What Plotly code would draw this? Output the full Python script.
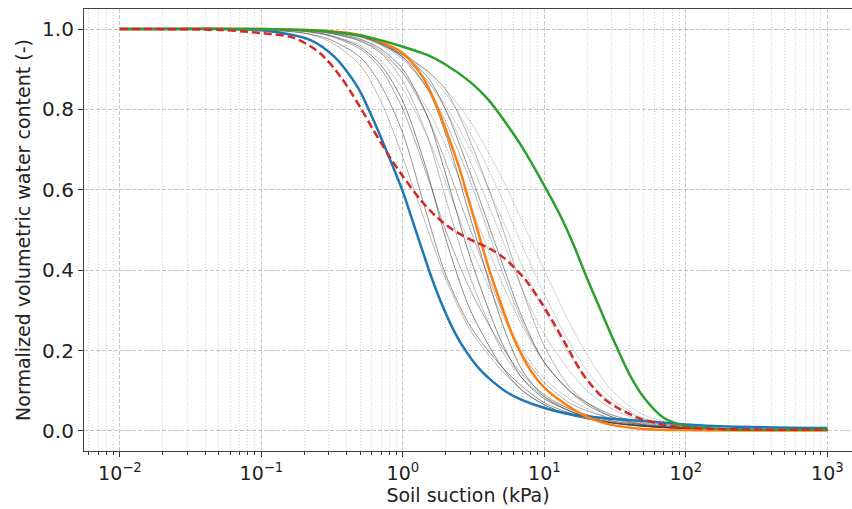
import plotly.graph_objects as go

# ---- data ----
blue_x = [0.01, 0.05, 0.1, 0.22, 0.33, 0.48, 0.62, 0.78, 1.0, 1.14, 1.4, 1.6, 1.86, 2.2, 2.57, 3.56, 5.5, 9.4, 16, 30, 48, 100, 200, 1000]
blue_y = [1, 1, 0.997, 0.973, 0.93, 0.855, 0.773, 0.69, 0.595, 0.535, 0.44, 0.38, 0.32, 0.262, 0.218, 0.15, 0.095, 0.06, 0.04, 0.03, 0.025, 0.016, 0.011, 0.007]

orange_x = [0.01, 0.1, 0.3, 0.5, 0.7, 1, 1.34, 1.66, 2, 2.5, 3, 3.5, 4, 5, 6, 8, 10, 13, 20, 30, 50, 100, 1000]
orange_y = [1, 1, 0.995, 0.985, 0.968, 0.94, 0.888, 0.825, 0.752, 0.655, 0.56, 0.48, 0.41, 0.31, 0.235, 0.15, 0.108, 0.075, 0.035, 0.015, 0.005, 0.002, 0.001]

green_x = [0.01, 0.1, 0.3, 0.5, 0.7, 1, 1.5, 2, 3, 4, 5.5, 7, 10, 13, 16, 20, 25, 30, 40, 50, 70, 100, 200, 1000]
green_y = [1, 1, 0.994, 0.984, 0.972, 0.956, 0.935, 0.912, 0.868, 0.825, 0.76, 0.705, 0.61, 0.535, 0.465, 0.38, 0.30, 0.235, 0.14, 0.085, 0.032, 0.012, 0.004, 0.003]

red_x = [0.01, 0.05, 0.1, 0.17, 0.26, 0.365, 0.5, 0.62, 0.78, 0.97, 1.34, 1.7, 2.2, 3, 4.2, 5.2, 7.2, 9.4, 12, 14.7, 18, 21, 26, 33, 48, 70, 100, 200, 1000]
red_y = [1, 0.998, 0.99, 0.978, 0.94, 0.88, 0.805, 0.748, 0.69, 0.64, 0.574, 0.535, 0.503, 0.476, 0.452, 0.43, 0.38, 0.322, 0.26, 0.205, 0.15, 0.118, 0.082, 0.057, 0.03, 0.015, 0.008, 0.004, 0.003]

gray_x = [0.01, 0.1, 0.2, 0.3, 0.5, 0.7, 1, 1.5, 2, 3, 5, 7, 10, 15, 20, 30, 50, 100, 200, 1000]
g01 = [1, .998, .99, .975, .93, .86, .74, .53, .39, .26, .16, .11, .07, .045, .033, .02, .012, .006, .004, .003]
g02 = [1, .999, .995, .985, .955, .91, .82, .64, .48, .30, .16, .10, .065, .04, .03, .02, .012, .006, .004, .003]
g03 = [1, .999, .996, .99, .97, .94, .87, .73, .58, .38, .20, .13, .085, .055, .04, .025, .014, .007, .004, .003]
g04 = [1, .999, .995, .985, .96, .92, .85, .73, .62, .46, .29, .20, .13, .08, .055, .03, .015, .007, .004, .003]
g05 = [1, 1, .997, .992, .975, .95, .90, .78, .64, .43, .22, .13, .08, .05, .035, .022, .012, .006, .004, .003]
g06 = [1, 1, .997, .99, .972, .945, .89, .78, .67, .50, .30, .19, .12, .07, .05, .03, .015, .007, .004, .003]
g07 = [1, 1, .997, .99, .97, .94, .89, .80, .71, .56, .37, .26, .17, .10, .07, .04, .02, .008, .004, .003]
g08 = [1, 1, .998, .994, .982, .963, .93, .85, .74, .53, .27, .15, .085, .05, .035, .02, .011, .006, .004, .003]
g09 = [1, 1, .998, .993, .98, .96, .925, .85, .77, .62, .40, .27, .17, .10, .07, .04, .02, .008, .004, .003]
g10 = [1, 1, .998, .994, .982, .963, .93, .87, .80, .67, .48, .35, .24, .15, .10, .055, .025, .009, .004, .003]
g11 = [1, 1, .998, .994, .983, .965, .935, .88, .80, .64, .42, .28, .17, .10, .065, .035, .017, .007, .004, .003]
g12 = [1, 1, .998, .993, .98, .962, .93, .87, .81, .70, .53, .41, .30, .19, .13, .07, .03, .01, .005, .003]
g13 = [1, 1, .998, .994, .982, .966, .94, .89, .84, .74, .58, .46, .34, .22, .15, .08, .032, .01, .005, .003]
g14 = [1, 1, .998, .994, .983, .966, .935, .895, .85, .72, .51, .35, .21, .11, .07, .035, .015, .006, .004, .003]
g15 = [1, 1, .998, .994, .983, .967, .94, .895, .85, .77, .63, .52, .40, .27, .19, .10, .04, .012, .005, .003]
g16 = [1, .999, .994, .983, .95, .90, .80, .63, .50, .35, .21, .14, .09, .055, .04, .025, .013, .006, .004, .003]
g17 = [1, .998, .99, .97, .91, .82, .68, .50, .38, .25, .15, .10, .065, .04, .03, .02, .012, .006, .004, .003]
gray_curves = [g01, g02, g03, g04, g05, g06, g07, g08, g09, g10, g11, g12, g13, g14, g15, g16, g17]
gray_alpha = [0.55, 0.6, 0.35, 0.25, 0.6, 0.4, 0.25, 0.6, 0.35, 0.25, 0.55, 0.22, 0.22, 0.4, 0.22, 0.45, 0.35]

major_ticks = [0.01, 0.1, 1, 10, 100, 1000]
major_text = ["10<sup>\u22122</sup>", "10<sup>\u22121</sup>", "10<sup>0</sup>", "10<sup>1</sup>", "10<sup>2</sup>", "10<sup>3</sup>"]
y_ticks = [0.0, 0.2, 0.4, 0.6, 0.8, 1.0]
minor_ticks = [m * 10.0 ** e for e in range(-3, 4) for m in range(2, 10)]

SM = 0.8
fig = go.Figure()
for ys, a in zip(gray_curves, gray_alpha):
    fig.add_trace(go.Scatter(x=gray_x, y=ys, mode="lines", line=dict(color=f"rgba(60,60,60,{a})", width=1, shape="spline", smoothing=SM), showlegend=False, hoverinfo="skip"))
fig.add_trace(go.Scatter(x=blue_x, y=blue_y, mode="lines", line=dict(color="#1f77b4", width=2.5, shape="spline", smoothing=SM), showlegend=False))
fig.add_trace(go.Scatter(x=orange_x, y=orange_y, mode="lines", line=dict(color="#ff7f0e", width=2.5, shape="spline", smoothing=SM), showlegend=False))
fig.add_trace(go.Scatter(x=green_x, y=green_y, mode="lines", line=dict(color="#2ca02c", width=2.5, shape="spline", smoothing=SM), showlegend=False))
fig.add_trace(go.Scatter(x=red_x, y=red_y, mode="lines", line=dict(color="#d62728", width=2.5, dash="8px,4px", shape="spline", smoothing=SM), showlegend=False))

font = "DejaVu Sans, sans-serif"
fig.update_layout(
    width=852, height=509,
    margin=dict(l=84, r=0, t=9, b=58),
    paper_bgcolor="white", plot_bgcolor="white",
    font=dict(family=font, size=19, color="#222"),
    xaxis=dict(
        type="log", range=[-2.254, 3.174],
        tickvals=major_ticks, ticktext=major_text,
        ticks="outside", ticklen=5, tickcolor="#333",
        showline=True, linecolor="#444", linewidth=1.2, mirror=True,
        showgrid=True, gridcolor="rgba(176,176,176,0.75)", griddash="4px,2px", gridwidth=1,
        minor=dict(tickvals=minor_ticks, ticks="outside", ticklen=3, tickcolor="#333",
                   showgrid=True, gridcolor="rgba(176,176,176,0.6)", griddash="1px,2px", gridwidth=1),
        title=dict(text="Soil suction (kPa)", font=dict(size=19), standoff=2),
        zeroline=False,
        tickfont=dict(size=19),
    ),
    yaxis=dict(
        range=[-0.05, 1.05],
        tickvals=y_ticks, ticktext=[f"{v:.1f}" for v in y_ticks],
        ticks="outside", ticklen=5, tickcolor="#333",
        showline=True, linecolor="#444", linewidth=1.2,
        showgrid=True, gridcolor="rgba(176,176,176,0.75)", griddash="4px,2px", gridwidth=1,
        title=dict(text="Normalized volumetric water content (-)", font=dict(size=19), standoff=6),
        zeroline=False,
        tickfont=dict(size=20),
    ),
)

fig.write_html("out.html")
